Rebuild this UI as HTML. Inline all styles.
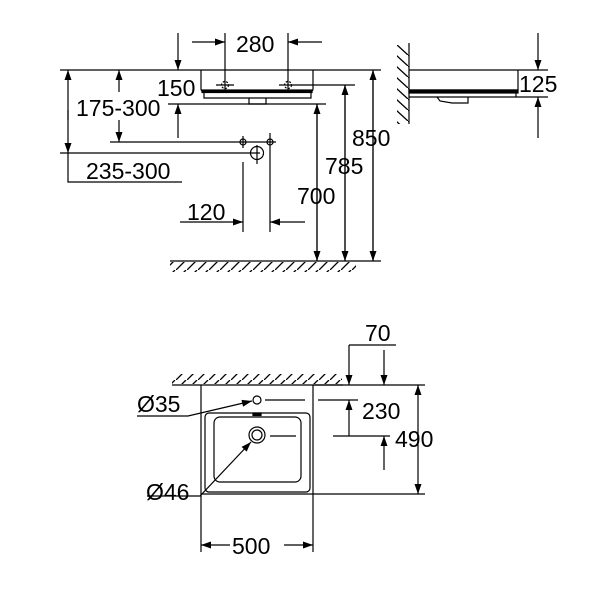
<!DOCTYPE html>
<html><head><style>body{margin:0;background:#fff}svg{display:block}text{font-family:"Liberation Sans",sans-serif;font-size:23px;fill:#000}</style></head><body>
<svg width="600" height="600" viewBox="0 0 600 600" xmlns="http://www.w3.org/2000/svg">
<defs>
<marker id="a" viewBox="0 0 10 10" refX="10" refY="5" markerWidth="14" markerHeight="10" markerUnits="userSpaceOnUse" orient="auto"><path d="M0,1.5 L10,5 L0,8.5 Z" fill="#000"/></marker>
<pattern id="hf" width="11" height="10" patternUnits="userSpaceOnUse"><line x1="0" y1="10" x2="10" y2="0" stroke="#000" stroke-width="1.3"/></pattern>
<pattern id="hw" width="12" height="11" patternUnits="userSpaceOnUse"><line x1="0" y1="0" x2="12" y2="11" stroke="#000" stroke-width="1.3"/></pattern>
</defs>
<g stroke="#000" stroke-width="1.2" fill="none">
<line x1="60" y1="70" x2="381" y2="70"/>
<path d="M201,70 V89 Q201,91 203,91 H311 Q313,91 313,89 V70"/>
<rect x="202" y="90" width="110" height="2.5" fill="#000"/>
<path d="M204,92.5 V98 H311 V92.5"/>
<path d="M249,98 V104 H266 V98"/>
<line x1="168" y1="104" x2="326" y2="104"/>
<line x1="225" y1="33" x2="225" y2="93"/><line x1="288" y1="33" x2="288" y2="93"/>
<circle cx="225" cy="85" r="3.5" stroke-dasharray="2,1.5"/><line x1="216" y1="85" x2="234" y2="85"/>
<circle cx="288" cy="85" r="3.5" stroke-dasharray="2,1.5"/><line x1="279" y1="85" x2="355" y2="85"/>
<line x1="192" y1="42" x2="225" y2="42" marker-end="url(#a)"/>
<line x1="322" y1="42" x2="288" y2="42" marker-end="url(#a)"/>
<line x1="178" y1="33" x2="178" y2="70" marker-end="url(#a)"/>
<line x1="178" y1="138" x2="178" y2="104" marker-end="url(#a)"/>
<line x1="119" y1="92" x2="119" y2="70" marker-end="url(#a)"/>
<line x1="119" y1="120" x2="119" y2="142" marker-end="url(#a)"/>
<line x1="110" y1="142" x2="276" y2="142"/>
<line x1="60" y1="153" x2="260" y2="153"/>
<path d="M68,153 V182 H182"/>
<line x1="68" y1="120" x2="68" y2="70" marker-end="url(#a)"/>
<line x1="68" y1="110" x2="68" y2="153" marker-end="url(#a)"/>
<circle cx="243" cy="142" r="3"/><line x1="243" y1="136" x2="243" y2="148"/>
<circle cx="270" cy="142" r="3"/><line x1="270" y1="133" x2="270" y2="232"/>
<circle cx="257" cy="153" r="6.5"/><line x1="257" y1="145" x2="257" y2="164"/>
<line x1="243" y1="162" x2="243" y2="232"/>
<line x1="180" y1="222" x2="243" y2="222" marker-end="url(#a)"/>
<line x1="305" y1="222" x2="270" y2="222" marker-end="url(#a)"/>
<line x1="317" y1="104" x2="317" y2="261" marker-end="url(#a)"/>
<line x1="317" y1="261" x2="317" y2="104" marker-end="url(#a)"/>
<line x1="345" y1="85" x2="345" y2="261" marker-end="url(#a)"/>
<line x1="345" y1="261" x2="345" y2="85" marker-end="url(#a)"/>
<line x1="373" y1="70" x2="373" y2="261" marker-end="url(#a)"/>
<line x1="373" y1="261" x2="373" y2="70" marker-end="url(#a)"/>
<line x1="170" y1="261" x2="381" y2="261"/>
<rect x="170" y="262" width="186" height="10" fill="url(#hf)" stroke="none"/>
<line x1="409" y1="43" x2="409" y2="124"/>
<rect x="397" y="45" width="12" height="79" fill="url(#hw)" stroke="none"/>
<path d="M409,70 H517 Q518,70 518,72 V90 H409"/>
<rect x="409" y="90" width="109" height="3" fill="#000"/>
<path d="M409,97 H516 V93"/>
<path d="M437,97 L440,101 L452,103 H468 V97"/>
<line x1="518" y1="70" x2="548" y2="70"/><line x1="516" y1="97" x2="548" y2="97"/>
<line x1="538" y1="33" x2="538" y2="70" marker-end="url(#a)"/>
<line x1="538" y1="138" x2="538" y2="97" marker-end="url(#a)"/>
<line x1="172" y1="385" x2="343" y2="385"/>
<rect x="172" y="374" width="170" height="10" fill="url(#hf)" stroke="none"/>
<path d="M201,385 V552 M313,385 V552 M201,494 H313 M313,385 H425 M313,494 H425"/>
<rect x="205" y="413" width="105" height="79" rx="4"/>
<rect x="214" y="417" width="87" height="65" rx="6"/>
<rect x="253" y="413" width="8" height="2.5" fill="#000"/>
<circle cx="257" cy="400" r="4"/>
<circle cx="257" cy="435" r="8"/><circle cx="257" cy="435" r="5"/>
<line x1="265" y1="400" x2="305" y2="400"/><line x1="318" y1="400" x2="358" y2="400"/>
<line x1="270" y1="436" x2="296" y2="436"/><line x1="333" y1="436" x2="390" y2="436"/>
<path d="M349,345 H396"/>
<line x1="349" y1="345" x2="349" y2="385" marker-end="url(#a)"/>
<line x1="384" y1="350" x2="384" y2="385" marker-end="url(#a)"/>
<line x1="349" y1="436" x2="349" y2="400" marker-end="url(#a)"/>
<line x1="384" y1="470" x2="384" y2="436" marker-end="url(#a)"/>
<line x1="418" y1="440" x2="418" y2="385" marker-end="url(#a)"/>
<line x1="418" y1="440" x2="418" y2="494" marker-end="url(#a)"/>
<line x1="230" y1="545" x2="201" y2="545" marker-end="url(#a)"/>
<line x1="284" y1="545" x2="313" y2="545" marker-end="url(#a)"/>
<path d="M137,416 H188 L252,401" marker-end="url(#a)"/>
<path d="M147,496 H200 L251,442" marker-end="url(#a)"/>
</g>
<text x="236" y="52">280</text>
<text x="157" y="96">150</text>
<text x="76" y="116">175-300</text>
<text x="86" y="179">235-300</text>
<text x="187" y="220">120</text>
<text x="297" y="204">700</text>
<text x="325" y="174">785</text>
<text x="352" y="146">850</text>
<text x="519" y="92">125</text>
<text x="365" y="341">70</text>
<text x="362" y="419">230</text>
<text x="395" y="447">490</text>
<text x="232" y="554">500</text>
<text x="137" y="412">Ø35</text>
<text x="146" y="500">Ø46</text>
</svg>
</body></html>
